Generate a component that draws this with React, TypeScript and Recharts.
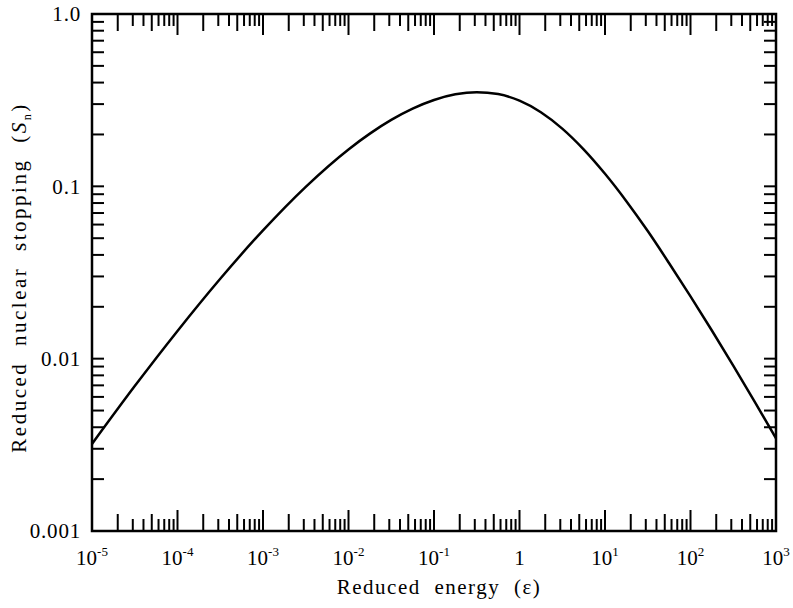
import React from "react";
import { LineChart, Line, XAxis, YAxis, ReferenceArea } from "recharts";

// reduced energy (epsilon) and reduced nuclear stopping Sn
const energy = [
  1e-5, 3.162e-5, 1e-4, 3.162e-4, 1e-3, 3.162e-3, 0.01, 0.01778, 0.03162, 0.05623,
  0.1, 0.1778, 0.3162, 0.5623, 1, 1.778, 3.162, 5.623, 10, 17.78, 31.62, 56.23,
  100, 177.8, 316.2, 562.3, 1000,
];
const stopping = [
  0.0032, 0.00693, 0.01448, 0.02908, 0.05553, 0.0994, 0.1638, 0.2023, 0.2429, 0.2824,
  0.317, 0.3419, 0.352, 0.3431, 0.3143, 0.2693, 0.2163, 0.1639, 0.1182, 0.082, 0.055, 0.0358,
  0.023, 0.01457, 0.0091, 0.00563, 0.00345,
];

const xMajor = [1e-5, 1e-4, 1e-3, 1e-2, 1e-1, 1, 10, 100, 1000];
const xExponents = [-5, -4, -3, -2, -1, 0, 1, 2, 3];
const yMajor = [0.001, 0.01, 0.1, 1];
const yLabels = ["0.001", "0.01", "0.1", "1.0"];
const minorSteps = [2, 3, 4, 5, 6, 7, 8, 9];

const xTicks = [
  ...xMajor,
  ...xMajor.slice(0, -1).flatMap((d) => minorSteps.map((m) => m * d)),
].sort((a, b) => a - b);
const yTicks = [
  ...yMajor,
  ...yMajor.slice(0, -1).flatMap((d) => minorSteps.map((m) => m * d)),
].sort((a, b) => a - b);

const data = energy.map((e, i) => ({ e, sn: stopping[i] }));

const W = 793;
const H = 608;
const LEFT = 92;
const TOP = 14;
const RIGHT = 17;
const BOTTOM = 77;
const PLOT_W = W - LEFT - RIGHT;
const PLOT_H = H - TOP - BOTTOM;
const FONT = "Liberation Serif, DejaVu Serif, serif";
const txt = { fontFamily: FONT };

function mantissa(v: number) {
  const e = Math.floor(Math.log10(v) + 1e-9);
  return Math.round(v / Math.pow(10, e));
}

function XTick(props: any) {
  const { x, y, payload } = props;
  const v = payload.value;
  const m = mantissa(v);
  const len = m === 1 ? 21 : m === 2 || m === 5 ? 17 : 12;
  const idx = xMajor.findIndex((t) => Math.abs(t - v) / t < 1e-6);
  const exp = idx >= 0 ? xExponents[idx] : null;
  return (
    <g>
      <line x1={x} x2={x} y1={y} y2={y - len} stroke="#000" strokeWidth={2} />
      <line x1={x} x2={x} y1={y - PLOT_H} y2={y - PLOT_H + len} stroke="#000" strokeWidth={2} />
      {exp !== null && (
        <text x={x} y={y + 34} textAnchor="middle" style={txt} fontSize={21} fill="#000">
          {exp === 0 ? (
            "1"
          ) : (
            <>
              <tspan>10</tspan>
              <tspan dy={-9} fontSize={13}>
                {exp}
              </tspan>
            </>
          )}
        </text>
      )}
    </g>
  );
}

function YTick(props: any) {
  const { x, y, payload } = props;
  const v = payload.value;
  const idx = yMajor.findIndex((t) => Math.abs(t - v) / t < 1e-6);
  return (
    <g>
      <line x1={x} x2={x + 12} y1={y} y2={y} stroke="#000" strokeWidth={2} />
      <line x1={x + PLOT_W} x2={x + PLOT_W - 12} y1={y} y2={y} stroke="#000" strokeWidth={2} />
      {idx >= 0 && (
        <text
          x={x - 11}
          y={y}
          dy="0.35em"
          textAnchor="end"
          style={txt}
          fontSize={21}
          letterSpacing={0.8}
          fill="#000"
        >
          {yLabels[idx]}
        </text>
      )}
    </g>
  );
}

function XTitle(props: any) {
  const vb = props.viewBox;
  return (
    <text
      x={vb.x + vb.width / 2 + 5}
      y={594}
      textAnchor="middle"
      style={txt}
      fontSize={21}
      letterSpacing={1.5}
      wordSpacing={7}
      fill="#000"
    >
      Reduced energy (ε)
    </text>
  );
}

function YTitle(props: any) {
  const vb = props.viewBox;
  const cy = vb.y + vb.height / 2 + 5;
  return (
    <text
      x={26}
      y={cy}
      transform={`rotate(-90, 26, ${cy})`}
      textAnchor="middle"
      style={txt}
      fontSize={21}
      letterSpacing={2.5}
      wordSpacing={8}
      fill="#000"
    >
      <tspan>Reduced nuclear stopping (</tspan>
      <tspan fontStyle="italic">S</tspan>
      <tspan dy={5} fontSize={12}>
        n
      </tspan>
      <tspan dy={-5}>)</tspan>
    </text>
  );
}

export default function App() {
  return (
    <div style={{ position: "absolute", left: 0, top: 0, width: W, height: H, background: "#fff" }}>
      <LineChart
        width={W}
        height={H}
        data={data}
        margin={{ top: TOP, right: RIGHT, left: 0, bottom: 0 }}
      >
        <XAxis
          dataKey="e"
          type="number"
          scale="log"
          domain={[1e-5, 1000]}
          allowDataOverflow
          ticks={xTicks}
          interval={0}
          tick={<XTick />}
          tickLine={false}
          tickSize={0}
          tickMargin={0}
          axisLine={false}
          height={BOTTOM}
          label={<XTitle />}
        />
        <YAxis
          type="number"
          scale="log"
          domain={[0.001, 1]}
          allowDataOverflow
          ticks={yTicks}
          interval={0}
          tick={<YTick />}
          tickLine={false}
          tickSize={0}
          tickMargin={0}
          axisLine={false}
          width={LEFT}
          label={<YTitle />}
        />
        <ReferenceArea
          x1={1e-5}
          x2={1000}
          y1={0.001}
          y2={1}
          fill="none"
          fillOpacity={0}
          stroke="#000"
          strokeWidth={2.5}
        />
        <Line
          type="monotone"
          dataKey="sn"
          stroke="#000"
          strokeWidth={2.5}
          dot={false}
          isAnimationActive={false}
        />
      </LineChart>
    </div>
  );
}
